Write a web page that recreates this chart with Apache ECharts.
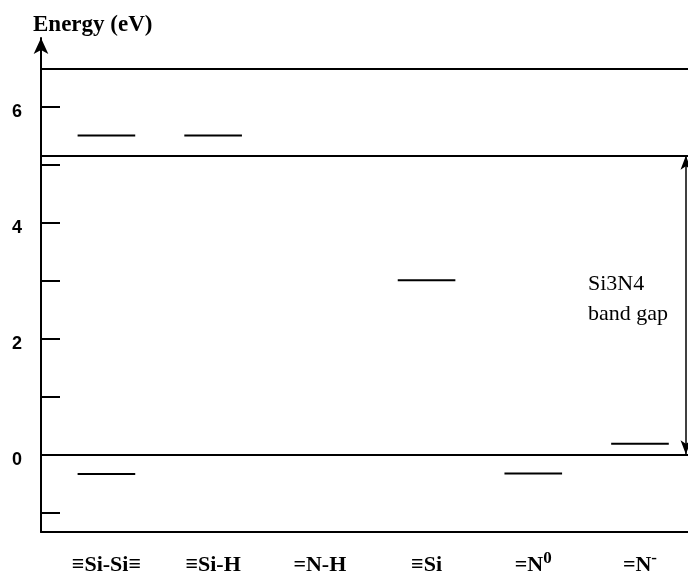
<!DOCTYPE html>
<html>
<head>
<meta charset="utf-8">
<script src="https://cdn.jsdelivr.net/npm/echarts@6/dist/echarts.min.js"></script>
<style>
  html, body { margin: 0; padding: 0; background: #fff; }
  #chart { width: 688px; height: 578px; }
</style>
</head>
<body>
<div id="chart"></div>
<script>
// Defect types along the horizontal axis ("^" introduces a superscript charge)
const categories = ['≡Si-Si≡', '≡Si-H', '=N-H', '≡Si', '=N^0', '=N^-'];

// Defect levels: which defect type and its energy (eV)
const levelCategory = [0, 0, 1, 3, 4, 5];
const levelEnergy = [5.5, -0.34, 5.5, 3.0, -0.33, 0.18];

// Band edges (eV)
const valenceEdge = 0;
const conductionEdge = 5.15;
const upperEdge = 6.65;

// Energy axis ticks and labelled values
const energyTicks = [-1, 0, 1, 2, 3, 4, 5, 6];
const energyLabels = [0, 2, 4, 6];

// Axis extents and drawing constants
const Y_MIN = -1.34, Y_MAX = 7.18;
const X_MIN = -0.613, X_MAX = 5.45;
const GAP_X = 5.43;        // where the band-gap arrow stands
const LEVEL_HALF = 0.27;   // half length of a level bar, in category units
const INK = '#000';

const chart = echarts.init(document.getElementById('chart'), null, { renderer: 'canvas' });

function categoryLabel(v) {
  const name = categories[Math.round(v)];
  if (name === undefined) return '';
  const parts = name.split('^');
  return parts.length > 1 ? '{a|' + parts[0] + '}{s|' + parts[1] + '}' : '{a|' + name + '}';
}

chart.setOption({
  animation: false,
  backgroundColor: '#fff',
  title: {
    text: 'Energy (eV)',
    left: 33,
    top: 14,
    padding: 0,
    textStyle: { fontFamily: 'Liberation Serif', fontWeight: 'bold', fontSize: 23, color: INK }
  },
  grid: { left: 41, right: -2, top: 38, bottom: 46, containLabel: false },
  xAxis: {
    type: 'value',
    min: X_MIN,
    max: X_MAX,
    axisLine: { show: true, onZero: false, lineStyle: { color: INK, width: 2 } },
    axisTick: { show: false },
    splitLine: { show: false },
    axisLabel: {
      customValues: categories.map((_, i) => i),
      formatter: categoryLabel,
      margin: 18,
      rich: {
        a: { fontFamily: 'Liberation Serif', fontWeight: 'bold', fontSize: 22, lineHeight: 30, color: INK },
        s: { fontFamily: 'Liberation Serif', fontWeight: 'bold', fontSize: 17, color: INK, verticalAlign: 'top' }
      }
    }
  },
  yAxis: {
    type: 'value',
    min: Y_MIN,
    max: Y_MAX,
    axisLine: {
      show: true, onZero: false,
      symbol: ['none', 'arrow'], symbolSize: [11, 16],
      lineStyle: { color: INK, width: 2 }
    },
    axisTick: { show: true, inside: true, length: 19, customValues: energyTicks, lineStyle: { color: INK, width: 2 } },
    splitLine: { show: false },
    axisLabel: {
      customValues: energyLabels,
      margin: 19,
      verticalAlign: 'top',
      lineHeight: 12,
      fontFamily: 'Liberation Sans', fontWeight: 'bold', fontSize: 18, color: INK
    }
  },
  graphic: [{
    type: 'text',
    left: 588,
    top: 269,
    style: {
      text: 'Si3N4\nband gap',
      fontFamily: 'Liberation Serif', fontSize: 22, lineHeight: 30, fill: INK
    }
  }],
  series: [
    {
      // localized defect levels
      type: 'custom',
      data: levelCategory.map((c, i) => [c, levelEnergy[i]]),
      renderItem: (params, api) => {
        const c = api.value(0), e = api.value(1);
        const p1 = api.coord([c - LEVEL_HALF, e]);
        const p2 = api.coord([c + LEVEL_HALF, e]);
        return {
          type: 'line',
          shape: { x1: p1[0], y1: p1[1], x2: p2[0], y2: p2[1] },
          style: { stroke: INK, lineWidth: 2 }
        };
      },
      silent: true
    },
    {
      // band edges
      type: 'line',
      data: [],
      silent: true,
      markLine: {
        silent: true,
        symbol: ['none', 'none'],
        label: { show: false },
        lineStyle: { color: INK, width: 2, type: 'solid' },
        data: [{ yAxis: upperEdge }, { yAxis: conductionEdge }, { yAxis: valenceEdge }]
      }
    },
    {
      // band gap span
      type: 'line',
      data: [],
      silent: true,
      markLine: {
        silent: true,
        symbol: ['arrow', 'arrow'],
        symbolSize: [8, 14],
        label: { show: false },
        lineStyle: { color: INK, width: 1.5, type: 'solid' },
        data: [[{ coord: [GAP_X, valenceEdge] }, { coord: [GAP_X, conductionEdge] }]]
      }
    }
  ]
});
</script>
</body>
</html>
